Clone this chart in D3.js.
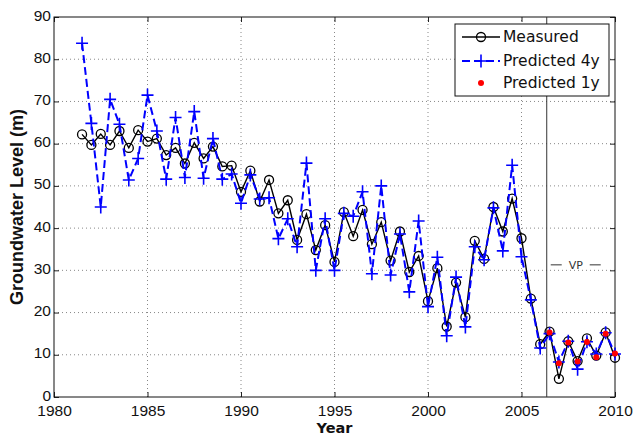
<!DOCTYPE html>
<html>
<head>
<meta charset="utf-8">
<script src="https://cdn.jsdelivr.net/npm/d3@7"></script>
<style>
  body { margin: 0; background: #fff; }
  svg { display: block; }
</style>
</head>
<body>
<script>
// half-yearly samples
var years = [1981.5, 1982, 1982.5, 1983, 1983.5, 1984, 1984.5, 1985, 1985.5, 1986,
             1986.5, 1987, 1987.5, 1988, 1988.5, 1989, 1989.5, 1990, 1990.5, 1991,
             1991.5, 1992, 1992.5, 1993, 1993.5, 1994, 1994.5, 1995, 1995.5, 1996,
             1996.5, 1997, 1997.5, 1998, 1998.5, 1999, 1999.5, 2000, 2000.5, 2001,
             2001.5, 2002, 2002.5, 2003, 2003.5, 2004, 2004.5, 2005, 2005.5, 2006,
             2006.5, 2007, 2007.5, 2008, 2008.5, 2009, 2009.5, 2010];

var measured = [62.2, 59.7, 62.3, 59.7, 63.0, 59.0, 63.2, 60.5, 61.2, 57.3,
                59.0, 55.3, 60.2, 56.5, 59.3, 54.6, 54.8, 48.6, 53.6, 46.3,
                51.4, 43.5, 46.6, 37.2, 43.3, 34.8, 40.7, 32.0, 43.8, 38.1,
                44.3, 36.2, 41.4, 32.3, 39.2, 29.6, 33.4, 22.7, 30.5, 16.7,
                27.1, 18.9, 37.0, 32.7, 45.0, 39.2, 47.0, 37.6, 23.3, 12.5,
                15.5, 4.3, 13.2, 8.5, 13.9, 9.8, 15.3, 9.3];

var predicted4y = [83.8, 64.8, 45.0, 70.5, 64.6, 51.4, 56.5, 71.5, 63.0, 51.6,
                   66.2, 52.0, 67.6, 51.8, 61.2, 51.6, 52.8, 45.9, 52.6, 46.9,
                   47.2, 37.5, 42.2, 35.6, 55.4, 30.0, 42.2, 30.0, 43.5, 42.8,
                   48.6, 29.2, 50.0, 28.9, 38.6, 24.9, 41.7, 21.4, 33.1, 14.5,
                   28.4, 16.6, 35.6, 32.5, 44.8, 34.6, 54.9, 33.2, 23.0, 11.6,
                   15.0, 8.3, 13.2, 6.6, 13.1, 10.2, 15.2, 10.2];

var years1y = [2006.5, 2007, 2007.5, 2008, 2008.5, 2009, 2009.5, 2010];
var predicted1y = [15.3, 8.0, 12.9, 8.4, 13.0, 9.4, 15.0, 10.3];

var xTicks = [1980, 1985, 1990, 1995, 2000, 2005, 2010];
var yTicks = [0, 10, 20, 30, 40, 50, 60, 70, 80, 90];
var vpYear = 2006.35;
var legendLabels = ["Measured", "Predicted 4y", "Predicted 1y"];

var width = 634,
    height = 435,
    margin = {top: 17, right: 19, bottom: 38, left: 54};

var x = d3.scaleLinear().domain([1980, 2010]).range([margin.left, width - margin.right]);
var y = d3.scaleLinear().domain([0, 90]).range([height - margin.bottom, margin.top]);

var svg = d3.select("body").append("svg")
            .attr("width", width)
            .attr("height", height)
            .style("font-family", "'DejaVu Sans', sans-serif");

// grid
svg.append("g").selectAll("line")
   .data(xTicks.slice(1, -1))
   .enter().append("line")
   .attr("x1", d => x(d)).attr("x2", d => x(d))
   .attr("y1", y(0)).attr("y2", y(90))
   .attr("stroke", "#888").attr("stroke-dasharray", "1,3");

svg.append("g").selectAll("line")
   .data(yTicks.slice(1, -1))
   .enter().append("line")
   .attr("y1", d => y(d)).attr("y2", d => y(d))
   .attr("x1", x(1980)).attr("x2", x(2010))
   .attr("stroke", "#888").attr("stroke-dasharray", "1,3");

// axes (ticks point inward like matlab)
function styleAxis(g){
  g.select(".domain").remove();
  g.selectAll("text").attr("font-size", 15.5).attr("fill", "#111");
  g.selectAll("line").attr("stroke", "#222");
}

svg.append("g")
   .attr("transform", "translate(0," + y(0) + ")")
   .call(d3.axisBottom(x).tickValues(xTicks).tickFormat(d3.format("d")).tickSize(-5).tickPadding(8))
   .call(styleAxis);

svg.append("g")
   .attr("transform", "translate(0," + y(90) + ")")
   .call(d3.axisTop(x).tickValues(xTicks).tickFormat("").tickSize(-5))
   .call(styleAxis);

svg.append("g")
   .attr("transform", "translate(" + x(1980) + ",0)")
   .call(d3.axisLeft(y).tickValues(yTicks).tickSize(-5).tickPadding(3))
   .call(styleAxis)
   .call(g => g.selectAll("text").attr("dy", "0.2em"));

svg.append("g")
   .attr("transform", "translate(" + x(2010) + ",0)")
   .call(d3.axisRight(y).tickValues(yTicks).tickFormat("").tickSize(-5))
   .call(styleAxis);

svg.append("rect")
   .attr("x", x(1980)).attr("y", y(90))
   .attr("width", x(2010) - x(1980)).attr("height", y(0) - y(90))
   .attr("fill", "none").attr("stroke", "#111");

// VP marker
svg.append("line")
   .attr("x1", x(vpYear)).attr("x2", x(vpYear))
   .attr("y1", y(90)).attr("y2", y(0))
   .attr("stroke", "#333");

var vp = svg.append("g").attr("transform", "translate(" + x(2007.9) + "," + y(31.3) + ")");
vp.append("line").attr("x1", -25).attr("x2", -14).attr("stroke", "#333");
vp.append("line").attr("x1", 14).attr("x2", 25).attr("stroke", "#333");
vp.append("text").attr("text-anchor", "middle").attr("dy", "0.35em")
  .attr("font-size", 11).attr("fill", "#333").text("VP");

// series
var line = d3.line().x(d => x(d[0])).y(d => y(d[1]));
var mData = years.map((d, i) => [d, measured[i]]);
var pData = years.map((d, i) => [d, predicted4y[i]]);
var rData = years1y.map((d, i) => [d, predicted1y[i]]);

var crossPath = "M-6,0H6M0,-6.5V6.5";

svg.append("path").datum(mData)
   .attr("d", line).attr("fill", "none")
   .attr("stroke", "#000").attr("stroke-width", 1.4);

svg.append("g").selectAll("circle")
   .data(mData).enter().append("circle")
   .attr("cx", d => x(d[0])).attr("cy", d => y(d[1])).attr("r", 4.5)
   .attr("fill", "none").attr("stroke", "#000").attr("stroke-width", 1.3);

svg.append("path").datum(pData)
   .attr("d", line).attr("fill", "none")
   .attr("stroke", "#0000ff").attr("stroke-width", 2)
   .attr("stroke-dasharray", "8,4");

svg.append("g").selectAll("path")
   .data(pData).enter().append("path")
   .attr("transform", d => "translate(" + x(d[0]) + "," + y(d[1]) + ")")
   .attr("d", crossPath)
   .attr("stroke", "#0000ff").attr("stroke-width", 1.6);

svg.append("g").selectAll("circle")
   .data(rData).enter().append("circle")
   .attr("cx", d => x(d[0])).attr("cy", d => y(d[1])).attr("r", 3)
   .attr("fill", "#ff0000");

// labels
svg.append("text")
   .attr("x", (x(1980) + x(2010)) / 2).attr("y", 433)
   .attr("text-anchor", "middle")
   .attr("font-size", 14.5).attr("font-weight", "bold").attr("fill", "#111")
   .text("Year");

svg.append("text")
   .attr("transform", "translate(23," + y(45) + ") rotate(-90)")
   .attr("text-anchor", "middle")
   .style("font-family", "'Liberation Sans', Arial, sans-serif")
   .attr("font-size", 18).attr("font-weight", "bold").attr("fill", "#111")
   .text("Groundwater Level (m)");

// legend
var legend = svg.append("g");
legend.append("rect")
      .attr("x", 455).attr("y", 24).attr("width", 154).attr("height", 72)
      .attr("fill", "#fff").attr("stroke", "#111");

var items = legend.selectAll("g.item")
      .data(legendLabels).enter().append("g")
      .attr("class", "item")
      .attr("transform", (d, i) => "translate(462," + [37, 61, 83][i] + ")");

items.append("text")
     .attr("x", 41).attr("dy", "0.35em")
     .attr("font-size", 15.5).attr("fill", "#111")
     .text(d => d);

var it0 = items.filter((d, i) => i === 0);
it0.append("line").attr("x1", 0).attr("x2", 38).attr("stroke", "#000").attr("stroke-width", 1.4);
it0.append("circle").attr("cx", 19).attr("r", 4.5).attr("fill", "none").attr("stroke", "#000").attr("stroke-width", 1.3);

var it1 = items.filter((d, i) => i === 1);
it1.append("line").attr("x1", 0).attr("x2", 38).attr("stroke", "#0000ff").attr("stroke-width", 2).attr("stroke-dasharray", "8,4");
it1.append("path").attr("transform", "translate(19,0)").attr("d", crossPath).attr("stroke", "#0000ff").attr("stroke-width", 1.6);

var it2 = items.filter((d, i) => i === 2);
it2.append("circle").attr("cx", 19).attr("r", 3).attr("fill", "#ff0000");
</script>
</body>
</html>
